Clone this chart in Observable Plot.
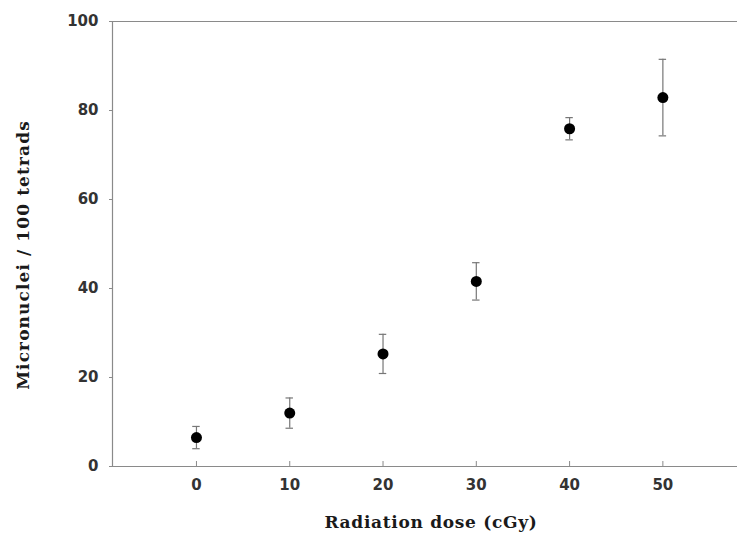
<!DOCTYPE html>
<html>
<head>
<meta charset="utf-8">
<script src="https://cdn.jsdelivr.net/npm/d3@7"></script>
<script src="https://cdn.jsdelivr.net/npm/@observablehq/plot@0.6"></script>
<style>
  html, body { margin: 0; padding: 0; background: #fff; }
  #chart svg { display: block; }
  #chart g.title-text text { letter-spacing: 0.7px; }
  #chart g.ytitle-text text { letter-spacing: 1.1px; }
</style>
</head>
<body>
<div id="chart"></div>
<script>
// Data
const doses = [0, 10, 20, 30, 40, 50];
const means = [6.5, 12.0, 25.3, 41.6, 75.9, 82.9];
const errors = [2.5, 3.4, 4.4, 4.2, 2.5, 8.6];
const xTicks = [0, 10, 20, 30, 40, 50];
const yTicks = [0, 20, 40, 60, 80, 100];
const xTitle = "Radiation dose (cGy)";
const yTitle = "Micronuclei / 100 tetrads";

const data = doses.map((d, i) => ({dose: d, mean: means[i], err: errors[i]}));

const axisColor = "#8a8a8a";

const chart = Plot.plot({
  width: 737,
  height: 535,
  marginLeft: 112,
  marginRight: 0,
  marginTop: 21,
  marginBottom: 69,
  style: {fontFamily: "DejaVu Sans", fontSize: "15px", background: "#fff", color: "#2a2a2a"},
  x: {domain: [-9, 58]},
  y: {domain: [0, 100]},
  marks: [
    // frame lines (left, bottom, top)
    Plot.ruleX([-9], {stroke: axisColor, strokeWidth: 1.2}),
    Plot.ruleY([0], {stroke: axisColor, strokeWidth: 1.2}),
    Plot.ruleY([100], {stroke: axisColor, strokeWidth: 1.2}),
    // x axis: labels + inward ticks
    Plot.axisX({ticks: xTicks, tickSize: 0, tickPadding: 13, label: null,
      fontSize: 15, fontWeight: "bold", fill: "#333", stroke: axisColor}),
    Plot.axisX({ticks: xTicks, tickSize: 5, dy: -5, tickFormat: () => "", label: null, stroke: axisColor}),
    // y axis: outward short ticks + labels
    Plot.axisY({ticks: yTicks, tickSize: 3, tickPadding: 11, label: null,
      fontSize: 15, fontWeight: "bold", fill: "#333", stroke: axisColor}),
    // error bars
    Plot.ruleX(data, {x: "dose", y1: d => d.mean - d.err, y2: d => d.mean + d.err, stroke: "#777", strokeWidth: 1.2}),
    Plot.ruleY(data, {y: d => d.mean + d.err, x1: d => d.dose - 0.4, x2: d => d.dose + 0.4, stroke: "#777", strokeWidth: 1.2}),
    Plot.ruleY(data, {y: d => d.mean - d.err, x1: d => d.dose - 0.4, x2: d => d.dose + 0.4, stroke: "#777", strokeWidth: 1.2}),
    // points
    Plot.dot(data, {x: "dose", y: "mean", r: 5.5, fill: "#000", stroke: "none"}),
    // axis titles
    Plot.text([xTitle], {frameAnchor: "bottom", dy: 61, dx: 6, text: d => d, textAnchor: "middle",
      className: "title-text",
      fontFamily: "DejaVu Serif", fontSize: 17, fontWeight: "bold", fill: "#1a1a1a"}),
    Plot.text([yTitle], {frameAnchor: "left", dx: -89, dy: 11, rotate: -90, text: d => d, textAnchor: "middle",
      className: "ytitle-text",
      fontFamily: "DejaVu Serif", fontSize: 17, fontWeight: "bold", fill: "#1a1a1a"})
  ]
});
document.getElementById("chart").appendChild(chart);
</script>
</body>
</html>
